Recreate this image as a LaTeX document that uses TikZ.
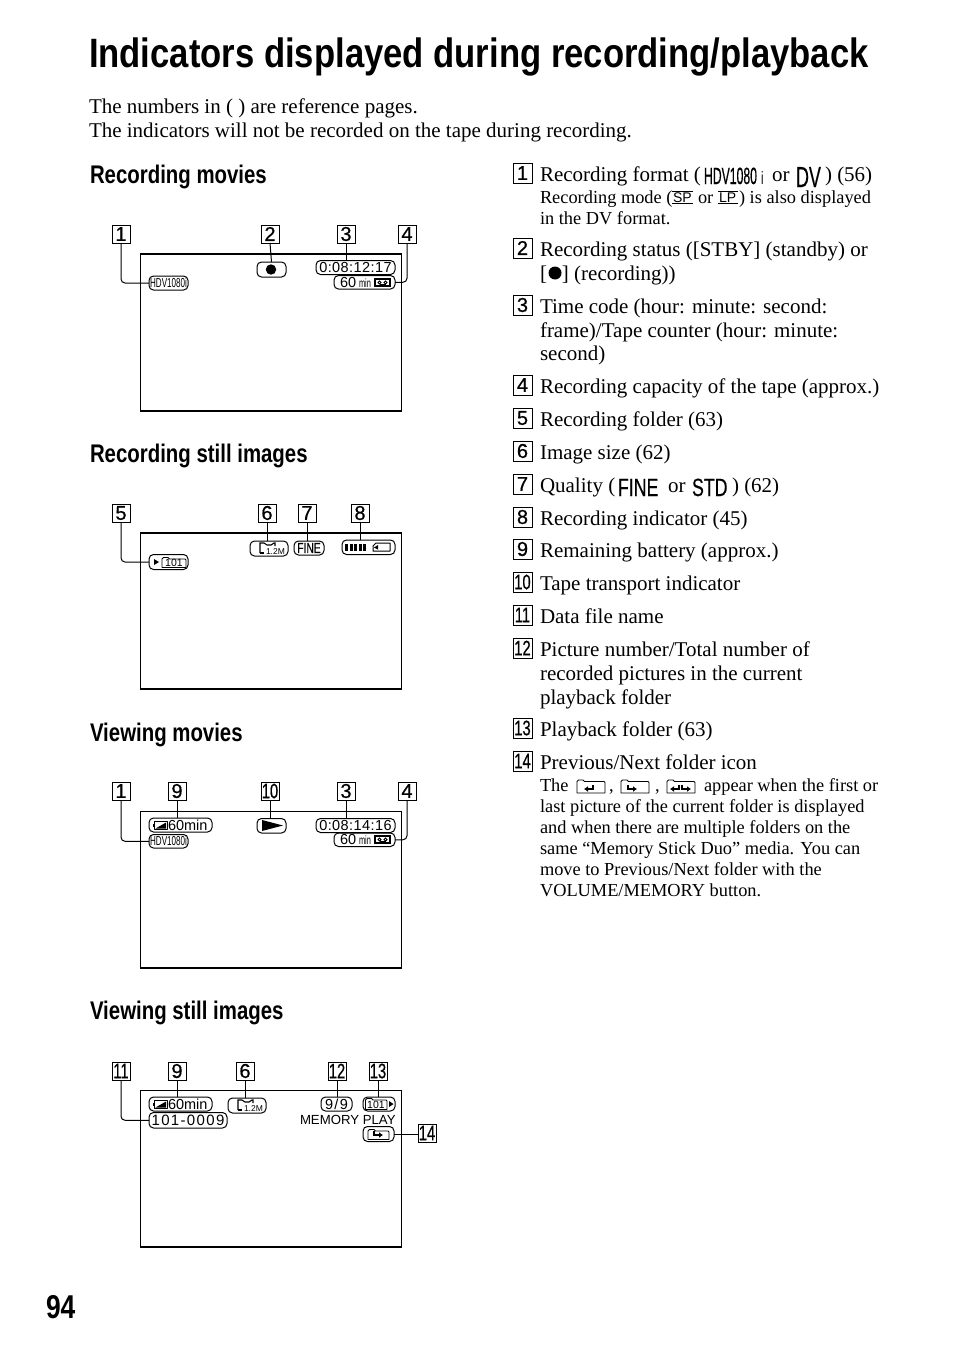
\documentclass[tikz,border=0pt]{standalone}
\usepackage{fontspec}
\usetikzlibrary{arrows.meta}
\setmainfont{Liberation Serif}
\setsansfont{Liberation Sans}
\newfontfamily\titlef[FakeStretch=0.845]{Liberation Sans}
\newfontfamily\condf[FakeStretch=0.80]{Liberation Sans}
\newfontfamily\iconf[FakeStretch=0.71,FakeBold=0.4]{Liberation Sans}
\newfontfamily\narrowf[FakeStretch=0.62]{Liberation Sans}
\newfontfamily\xnarrowf[FakeStretch=0.52,FakeBold=0.4]{Liberation Sans}
\newfontfamily\numf[FakeBold=0.6]{Liberation Sans}
\newfontfamily\numtwof[FakeBold=0.6,FakeStretch=0.70]{Liberation Sans}
\newfontfamily\spacedf[LetterSpace=3]{Liberation Sans}
\newfontfamily\widef[LetterSpace=9]{Liberation Sans}
\newcommand{\fs}[1]{\fontsize{#1}{#1}\selectfont}
\tikzset{
  txt/.style={anchor=base west,inner sep=0pt,outer sep=0pt},
  body/.style={txt,font=\fs{21}},
  small/.style={txt,font=\fs{18.35}},
  head/.style={txt,font=\condf\bfseries\fs{25.5}},
  numbox/.style={draw=black,line width=1pt,inner sep=0pt,outer sep=0pt,font=\numf\fs{20}},
  pillbox/.style={draw=black,line width=1pt,rounded corners=4.5pt,inner sep=0pt,outer sep=0pt,font=\sffamily\fs{14.5}},
  screen/.style={draw=black,line width=1.1pt,inner sep=0pt,outer sep=0pt},
  conn/.style={draw=black,line width=1pt},
  elbow/.style={conn,rounded corners=4pt},
  icon/.style={draw=black,line width=0.8pt,line join=round},
  iconthick/.style={draw=black,line width=1.5pt}
}
% name x1 x2 y1 y2 content
\newcommand{\bx}[7][numbox]{\node[#1,minimum width={((#4)-(#3))*1pt},minimum height={((#6)-(#5))*1pt}] (#2) at ({((#3)+(#4))/2},{((#5)+(#6))/2}) {#7};}
\newcommand{\pl}[6]{\bx[pillbox]{#1}{#2}{#3}{#4}{#5}{#6}}
\newcommand{\itm}[4]{\bx{n#1}{513}{532}{#2-18}{#2+2}{#3}\node[body] (t#1) at (540,#2) {#4};}
\newcommand{\two}[1]{{\numtwof\fs{21}#1}}
\newcommand{\batt}[2]{\begin{scope}[shift={(#1,#2)}]\draw[icon] (1.5,0) rectangle (14,8);\fill (0,2.5) rectangle (1.5,5.5);\fill (2.5,7) -- (13,1) -- (13,7) -- cycle;\end{scope}}
\newcommand{\tape}[2]{\begin{scope}[shift={(#1,#2)}]\draw[line width=1.1pt] (0,0) rectangle (15,7);\draw[line width=0.9pt] (4.5,3.5) circle (1.6) (10.5,3.5) circle (1.6);\draw[line width=0.9pt] (4.5,5.1) -- (10.5,5.1);\end{scope}}
\newcommand{\sizeicon}[3]{\begin{scope}[shift={(#1,#2)}]\draw[line width=1.1pt] (0,10) -- (0,0) -- (4,0) -- (7,2) -- (11,2) -- (14,0) -- (15,0) -- (15,3);\draw[line width=1.1pt] (0,10) -- (4,10);\node[txt,font=\sffamily\fs{8.5}] (#3) at (6,11.5) {1.2M};\end{scope}}
\newcommand{\fold}[5]{\begin{scope}[shift={(#1,#2)}]\draw[icon] (0,#4) -- (0,1.5) -- (1.5,0) -- (6,0) -- (7.5,1.5) -- (#3-1,1.5) -- (#3,2.5) -- (#3,#4) -- cycle;\end{scope}}
\newcommand{\nxt}[2]{\begin{scope}[shift={(#1,#2)}]\draw[line width=1.5pt,-{Latex[length=4pt,width=6pt]}] (0,0) -- (0,4) -- (9,4);\end{scope}}
\newcommand{\prv}[2]{\begin{scope}[shift={(#1,#2)}]\draw[line width=1.5pt,-{Latex[length=4pt,width=6pt]}] (9,0) -- (9,4) -- (0,4);\end{scope}}
\begin{document}
\begin{tikzpicture}[x=1pt,y=-1pt]
\useasboundingbox (0,0) rectangle (954,1357);
\fill[white] (0,0) rectangle (954,1357);
% title and intro
\node[txt,font=\titlef\bfseries\fs{41}] (title) at (89,67) {Indicators displayed during recording/playback};
\node[body] (intro1) at (89,113) {The numbers in ( ) are reference pages.};
\node[body] (intro2) at (89,137) {The indicators will not be recorded on the tape during recording.};
\node[head] (h1) at (90,183) {Recording movies};
\node[head] (h2) at (90,462) {Recording still images};
\node[head] (h3) at (90,741) {Viewing movies};
\node[head] (h4) at (90,1019) {Viewing still images};
\node[txt,font=\condf\bfseries\fs{33}] (page) at (46,1318) {94};
% screens
\bx[screen]{s1}{140.5}{401.5}{254}{411}{}
\bx[screen]{s2}{140.5}{401.5}{533}{689}{}
\bx[screen]{s3}{140.5}{401.5}{811.5}{968}{}
\bx[screen]{s4}{140.5}{401.5}{1090.5}{1247}{}
% screen 1
\bx{a1}{112}{130}{225}{243}{1}
\bx{a2}{261}{279}{225}{243}{2}
\bx{a3}{337}{355}{225}{243}{3}
\bx{a4}{398}{416}{225}{243}{4}
\pl{pa1}{149}{188}{276}{290}{\narrowf\fs{13}HDV1080i}
\pl{pa2}{257}{286}{262}{277}{}
\pl{pa3}{316}{395}{260.5}{274.5}{\spacedf\fs{14.5}0:08:12:17}
\pl{pa4}{334}{395}{275.5}{289}{}
\fill (271,269.5) circle (5.2);
\node[txt,font=\sffamily\fs{14.5}] (pa4a) at (340,287) {60};
\node[txt,font=\narrowf\fs{12}] (pa4b) at (359,287) {min};
\tape{375}{279}
\draw[elbow] (a1.south) |- (pa1.west);
\draw[conn] (a2.south) -- (pa2.north);
\draw[conn] (a3.south) -- (a3.south |- pa3.north);
\draw[elbow] (a4.south) |- (pa4.east);
% screen 2
\bx{b5}{112}{130}{504}{522}{5}
\bx{b6}{258}{276}{504}{522}{6}
\bx{b7}{298}{316}{504}{522}{7}
\bx{b8}{351}{369}{504}{522}{8}
\pl{pb5}{149}{188}{554.5}{569.5}{}
\pl{pb6}{250}{288}{541}{556}{}
\pl{pb7}{294}{324}{541}{555}{\iconf\fs{14.5}FINE}
\pl{pb8}{342}{395}{540}{554.5}{}
\fill (154,559) -- (159,562) -- (154,565) -- cycle;
\fold{162}{557.5}{24}{10}{}
\node[font=\sffamily\fs{10.5},inner sep=0pt] (pb5a) at (174,563.3) {101};
\sizeicon{260}{543}{pb6a}
\foreach \bxx in {345,349.5,354,358.5,363}{\fill (\bxx,543.5) rectangle +(3,7);}
\draw[icon,line width=1pt] (373,546) -- (376,543) -- (390,543) -- (390,551) -- (373,551) -- cycle;
\fill (378,545) -- (374,547.5) -- (378,549.5) -- cycle;
\draw[elbow] (b5.south) |- (pb5.west);
\draw[conn] (b6.south) -- (b6.south |- pb6.north);
\draw[conn] (b7.south) -- (b7.south |- pb7.north);
\draw[conn] (b8.south) -- (b8.south |- pb8.north);
% screen 3
\bx{c1}{112}{130}{782}{800}{1}
\bx{c9}{168}{186}{782}{800}{9}
\bx{c10}{261}{279}{782}{800}{\two{10}}
\bx{c3}{337}{355}{782}{800}{3}
\bx{c4}{398}{416}{782}{800}{4}
\pl{pc9}{149}{212}{818}{832}{}
\pl{pc10}{257}{286}{818.5}{833}{}
\pl{pc3}{316}{395}{818.5}{832.5}{\spacedf\fs{14.5}0:08:14:16}
\pl{pc4}{334}{395}{833}{846.5}{}
\pl{pc1}{149}{188}{834.5}{848}{\narrowf\fs{13}HDV1080i}
\batt{153}{821.5}
\node[txt,font=\sffamily\fs{14.5}] (pc9a) at (168,830.5) {60min};
\fill (262,820) -- (283,825.5) -- (262,831) -- cycle;
\node[txt,font=\sffamily\fs{14.5}] (pc4a) at (340,844.5) {60};
\node[txt,font=\narrowf\fs{12}] (pc4b) at (359,844.5) {min};
\tape{375}{836}
\draw[elbow] (c1.south) |- (pc1.west);
\draw[conn] (c9.south) -- (c9.south |- pc9.north);
\draw[conn] (c10.south) -- (c10.south |- pc10.north);
\draw[conn] (c3.south) -- (c3.south |- pc3.north);
\draw[elbow] (c4.south) |- (pc4.east);
% screen 4
\bx{d11}{112}{130}{1062}{1080}{\two{11}}
\bx{d9}{168}{186}{1062}{1080}{9}
\bx{d6}{236}{254}{1062}{1080}{6}
\bx{d12}{328}{346}{1062}{1080}{\two{12}}
\bx{d13}{369}{387}{1062}{1080}{\two{13}}
\bx{d14}{418}{436}{1124}{1142}{\two{14}}
\pl{pd9}{149}{212}{1097}{1111}{}
\pl{pd6}{228}{266}{1098}{1113}{}
\pl{pd12}{321}{352}{1097}{1111}{\widef\fs{14.5}9/9}
\pl{pd13}{363}{395}{1097}{1111}{}
\pl{pd11}{149}{227}{1112.5}{1128}{\widef\fs{15}101-0009}
\pl{pd14}{363}{394}{1126.5}{1141.5}{}
\batt{153}{1100.5}
\node[txt,font=\sffamily\fs{14.5}] (pd9a) at (168,1109.5) {60min};
\sizeicon{238}{1100}{pd6a}
\fold{365.5}{1098.5}{21.5}{11}{}
\node[font=\sffamily\fs{10.5},inner sep=0pt] (pd13a) at (376,1105) {101};
\fill (389,1101) -- (393.5,1104) -- (389,1107) -- cycle;
\node[txt,font=\sffamily\fs{13.2}] (mem) at (300,1124) {MEMORY PLAY};
\fold{368}{1129.5}{21}{10}{}
\nxt{374}{1131}
\draw[elbow] (d11.south) |- (pd11.west);
\draw[conn] (d9.south) -- (d9.south |- pd9.north);
\draw[conn] (d6.south) -- (d6.south |- pd6.north);
\draw[conn] (d12.south) -- (d12.south |- pd12.north);
\draw[conn] (d13.south) -- (d13.south |- pd13.north);
\draw[conn] (pd14.east) -- (d14.west |- pd14.east);
% list
\itm{1}{181}{1}{Recording format (}
\node[txt,font=\xnarrowf\fs{23.5}] (i1a) at (704,184) {HDV1080};
\node[txt,font=\narrowf\fs{18}] (i1b) at (761,184) {i};
\node[body] (i1c) at (772,181) {or};
\node[txt,font=\iconf\fs{29}] (i1d) at (796,187) {\scalebox{0.87}[1]{DV}};
\node[body] (i1e) at (825,181) {) (56)};
\node[small] (l1b) at (540,203) {Recording mode (};
\node[txt,font=\sffamily\fs{14}] (sp) at (673,202) {SP};
\draw[line width=0.7pt] (sp.north west) ++(-1,-1) -- ++(21,0) (sp.south west) ++(-1,1) -- ++(21,0);
\node[small] (l1c) at (698,203) {or};
\node[txt,font=\sffamily\fs{14}] (lp) at (719,202) {LP};
\draw[line width=0.7pt] (lp.north west) ++(-1,-1) -- ++(20,0) (lp.south west) ++(-1,1) -- ++(20,0);
\node[small] (l1d) at (739,203) {) is also displayed};
\node[small] (l1e) at (540,224) {in the DV format.};
\itm{2}{256}{2}{Recording status ([STBY] (standby) or}
\node[body] (l2b) at (540,280) {[\hspace{15pt}] (recording))};
\fill (555,273) circle (6.5);
\itm{3}{313}{3}{Time code (hour: minute: second:}
\node[body] (l3b) at (540,337) {frame)/Tape counter (hour: minute:};
\node[body] (l3c) at (540,360.5) {second)};
\itm{4}{393}{4}{Recording capacity of the tape (approx.)}
\itm{5}{426}{5}{Recording folder (63)}
\itm{6}{459}{6}{Image size (62)}
\itm{7}{492}{7}{Quality (}
\node[txt,font=\iconf\fs{25}] (i7a) at (618,496) {FINE};
\node[body] (i7b) at (668,492) {or};
\node[txt,font=\iconf\fs{25}] (i7c) at (692,496) {STD};
\node[body] (i7d) at (732,492) {) (62)};
\itm{8}{525}{8}{Recording indicator (45)}
\itm{9}{557}{9}{Remaining battery (approx.)}
\itm{10}{590}{\two{10}}{Tape transport indicator}
\itm{11}{623}{\two{11}}{Data file name}
\itm{12}{656}{\two{12}}{Picture number/Total number of}
\node[body] (l12b) at (540,680) {recorded pictures in the current};
\node[body] (l12c) at (540,704) {playback folder};
\itm{13}{736}{\two{13}}{Playback folder (63)}
\itm{14}{769}{\two{14}}{Previous/Next folder icon}
\node[small] (l14a) at (540,791) {The};
\fold{577}{780}{28}{13}{}
\prv{584}{785}
\node[small] (l14b) at (609,791) {,};
\fold{621}{780}{28}{13}{}
\nxt{628}{785}
\node[small] (l14c) at (655,791) {,};
\fold{667}{780}{28}{13}{}
\prv{670}{785}
\nxt{682}{785}
\node[small] (l14d) at (704,791) {appear when the first or};
\node[small] (l14e) at (540,812) {last picture of the current folder is displayed};
\node[small] (l14f) at (540,833) {and when there are multiple folders on the};
\node[small] (l14g) at (540,854) {same “Memory Stick Duo” media. You can};
\node[small] (l14h) at (540,875) {move to Previous/Next folder with the};
\node[small] (l14i) at (540,896) {VOLUME/MEMORY button.};
\end{tikzpicture}
\end{document}
